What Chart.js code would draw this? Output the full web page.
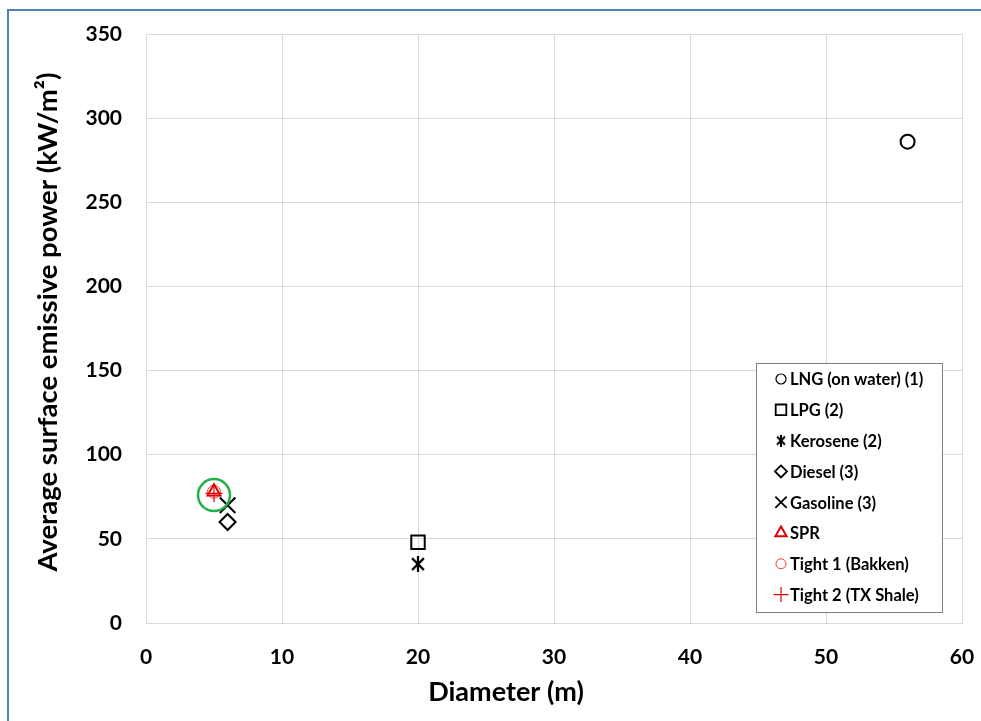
<!DOCTYPE html>
<html><head><meta charset="utf-8">
<script src="https://cdn.jsdelivr.net/npm/chart.js@4"></script>
<style>
html,body{margin:0;padding:0;background:#fff;overflow:hidden}
#wrap{position:relative;width:981px;height:721px}
#frame{position:absolute;left:7px;top:9px;width:1000px;height:740px;border:2px solid #4f81bd;pointer-events:none;box-sizing:border-box}
</style></head>
<body><div id="wrap"><canvas id="c" width="981" height="721"></canvas><div id="frame"></div></div>
<script>
const seriesLabels = ['LNG (on water) (1)','LPG (2)','Kerosene (2)','Diesel (3)','Gasoline (3)','SPR','Tight 1 (Bakken)','Tight 2 (TX Shale)'];
const diameters = [56, 20, 20, 6, 6, 5, 5, 5];
const emissivePower = [286, 48, 35, 60, 70, 78, 78, 77];
const highlightDiameter = [5];
const highlightPower = [76];
const xTicks = [0, 10, 20, 30, 40, 50, 60];
const yTicks = [0, 50, 100, 150, 200, 250, 300, 350];
const xTitle = 'Diameter (m)';
const yTitle = 'Average surface emissive power (kW/m²)';

const FONT = 'Lato, "Open Sans", sans-serif';

function makeAsterisk(w, h, lw) {
  const c = document.createElement('canvas');
  c.width = w; c.height = h;
  const g = c.getContext('2d');
  g.strokeStyle = '#000'; g.lineWidth = lw;
  const m = lw / 2;
  g.beginPath();
  g.moveTo(m, m + 1); g.lineTo(w - m, h - m - 1);
  g.moveTo(w - m, m + 1); g.lineTo(m, h - m - 1);
  g.moveTo(w / 2, 0); g.lineTo(w / 2, h);
  g.stroke();
  return c;
}

const styles = [
  {pointStyle: 'circle', radius: 7, color: '#000', bw: 2, lr: 5, lbw: 1.2},
  {pointStyle: 'rect', radius: 9.5, color: '#000', bw: 2, lr: 7.5, lbw: 1.8},
  {pointStyle: makeAsterisk(14, 16, 2.2), legendStyle: makeAsterisk(10, 12, 2), radius: 8, color: '#000', bw: 2},
  {pointStyle: 'rectRot', radius: 8, color: '#000', bw: 2, lr: 6, lbw: 1.8},
  {pointStyle: 'crossRot', radius: 11, color: '#000', bw: 2, lr: 8, lbw: 1.8},
  {pointStyle: 'triangle', radius: 7.5, color: '#e00000', bw: 2, lr: 6.5, lbw: 2},
  {pointStyle: 'circle', radius: 6.5, color: '#e04040', bw: 1, lr: 5, lbw: 1},
  {pointStyle: 'cross', radius: 8.5, color: '#e00000', bw: 1.2, lr: 7.5, lbw: 1.2}
];

const datasets = seriesLabels.map((lab, i) => ({
  label: lab,
  data: [{x: diameters[i], y: emissivePower[i]}],
  pointStyle: styles[i].pointStyle,
  pointRadius: styles[i].radius,
  pointHoverRadius: styles[i].radius,
  borderColor: styles[i].color,
  backgroundColor: 'rgba(255,255,255,0)',
  pointBorderWidth: styles[i].bw,
  borderWidth: styles[i].bw,
  order: i === 3 ? 2 : 1
}));
datasets.push({
  label: '',
  hideInLegend: true,
  data: highlightDiameter.map((d, i) => ({x: d, y: highlightPower[i]})),
  pointStyle: 'circle',
  pointRadius: 16,
  pointBorderWidth: 2.5,
  borderColor: '#22b04b',
  backgroundColor: 'rgba(255,255,255,0)',
  order: 0
});

const titlePlugin = {
  id: 'axisTitles',
  afterDraw(chart) {
    const {ctx, chartArea: a} = chart;
    ctx.save();
    ctx.fillStyle = '#000';
    ctx.textAlign = 'center';
    ctx.textBaseline = 'middle';
    ctx.font = 'bold 27px ' + FONT;
    ctx.fillText(xTitle, a.left + 360, a.bottom + 69);
    ctx.translate(48, a.top + 288);
    ctx.rotate(-Math.PI / 2);
    ctx.font = 'bold 27.5px ' + FONT;
    ctx.fillText(yTitle, 0, 0);
    ctx.restore();
  }
};

const legendPlugin = {
  id: 'boxLegend',
  afterDatasetsDraw(chart) {
    const {ctx, chartArea: a} = chart;
    const left = a.right - 206, top = a.top + 329, w = 186, h = 249;
    ctx.save();
    ctx.fillStyle = '#fff';
    ctx.fillRect(left, top, w, h);
    ctx.strokeStyle = '#808080';
    ctx.lineWidth = 1;
    ctx.strokeRect(left + 0.5, top + 0.5, w, h);
    ctx.font = 'bold 16.5px ' + FONT;
    ctx.textBaseline = 'middle';
    ctx.textAlign = 'left';
    chart.data.datasets.forEach((ds, i) => {
      if (ds.hideInLegend) return;
      const st = styles[i];
      const y = top + 16 + i * 30.8;
      const x = left + 25;
      ctx.strokeStyle = st.color;
      ctx.fillStyle = '#fff';
      ctx.lineWidth = st.lbw || 1;
      Chart.helpers.drawPoint(ctx, {
        pointStyle: st.legendStyle || st.pointStyle,
        radius: st.lr || 5,
        borderWidth: st.lbw || 1,
        rotation: 0
      }, x, y);
      ctx.fillStyle = '#000';
      ctx.fillText(ds.label, left + 34, y + 1);
    });
    ctx.restore();
  }
};

new Chart(document.getElementById('c'), {
  type: 'scatter',
  data: {datasets},
  plugins: [legendPlugin, titlePlugin],
  options: {
    responsive: false,
    animation: false,
    layout: {padding: {top: 34, right: 19, left: 0, bottom: 0}},
    plugins: {legend: {display: false}, tooltip: {enabled: false}},
    scales: {
      x: {
        type: 'linear', min: 0, max: 60,
        afterFit: s => { s.height = 98; s.paddingLeft = 0; s.paddingRight = 0; },
        afterBuildTicks: s => { s.ticks = xTicks.map(v => ({value: v})); },
        grid: {color: '#d9d9d9', drawTicks: false},
        border: {color: '#d9d9d9'},
        ticks: {color: '#000', padding: 22, font: {family: FONT, size: 21, weight: 'bold'}},
        title: {display: false}
      },
      y: {
        type: 'linear', min: 0, max: 350,
        afterFit: s => { s.width = 146; s.paddingTop = 0; s.paddingBottom = 0; },
        afterBuildTicks: s => { s.ticks = yTicks.map(v => ({value: v})); },
        grid: {color: '#d9d9d9', drawTicks: false},
        border: {color: '#d9d9d9'},
        ticks: {color: '#000', padding: 24, font: {family: FONT, size: 21, weight: 'bold'}},
        title: {display: false}
      }
    }
  }
});
</script>
</body></html>
